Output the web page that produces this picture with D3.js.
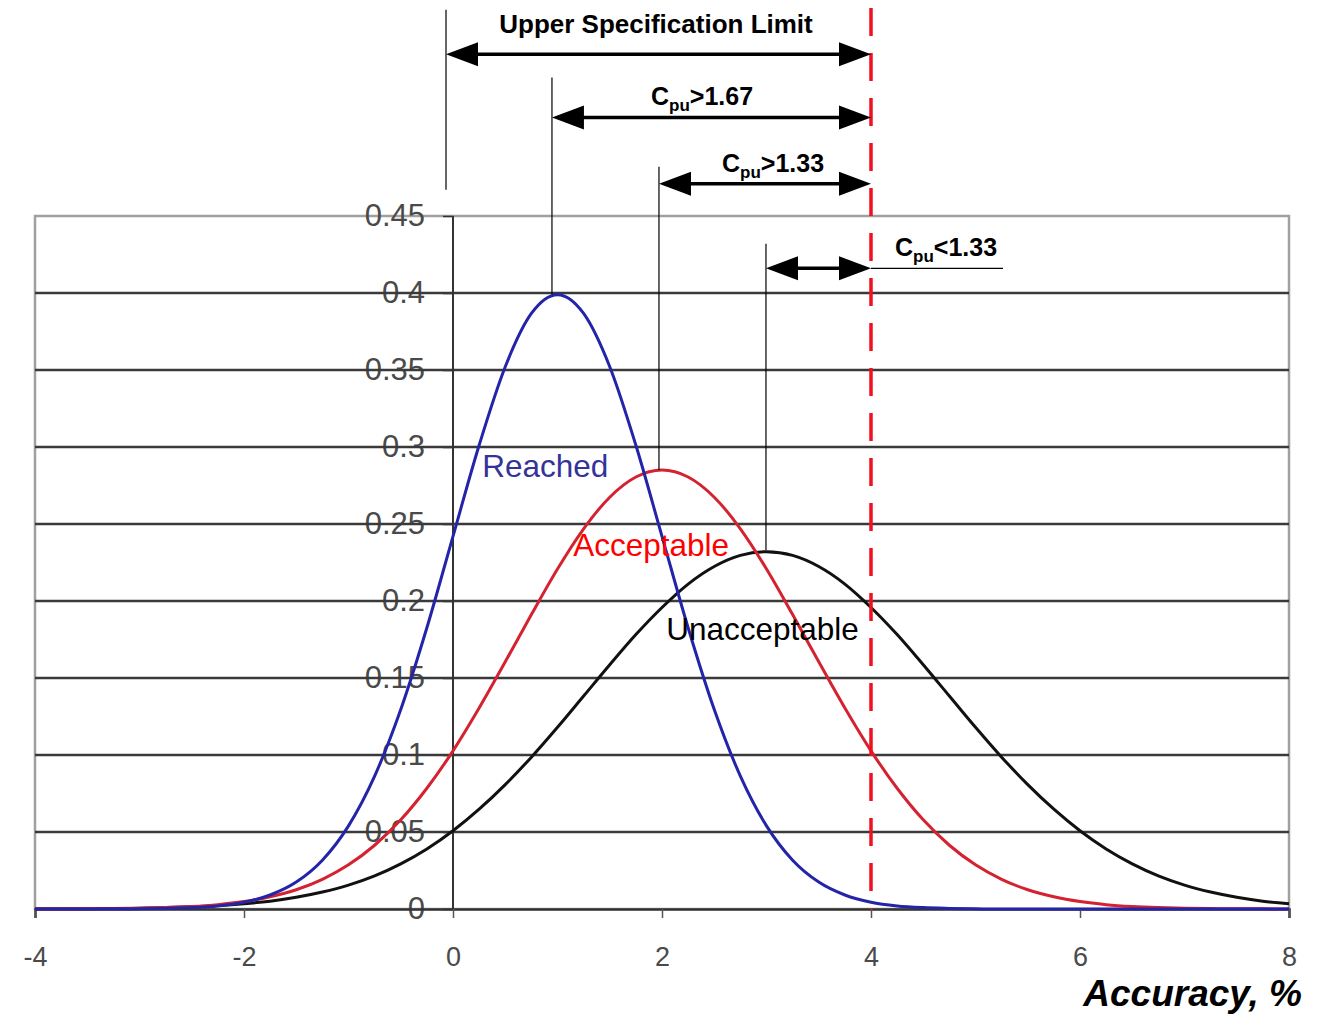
<!DOCTYPE html>
<html>
<head>
<meta charset="utf-8">
<script src="https://cdn.jsdelivr.net/npm/d3@7"></script>
<style>
  html, body { margin: 0; padding: 0; background: #fff; }
  svg { display: block; font-family: "Liberation Sans", Arial, sans-serif; }
</style>
</head>
<body>
<svg id="chart" width="1322" height="1014"></svg>
<script>
// Process capability curves (Cpu) vs upper spec limit
const xs = [-4, -3.75, -3.5, -3.25, -3, -2.75, -2.5, -2.25, -2, -1.75, -1.5, -1.25, -1, -0.75, -0.5, -0.25,
    0, 0.25, 0.5, 0.75, 1, 1.25, 1.5, 1.75, 2, 2.25, 2.5, 2.75, 3, 3.25, 3.5, 3.75,
    4, 4.25, 4.5, 4.75, 5, 5.25, 5.5, 5.75, 6, 6.25, 6.5, 6.75, 7, 7.25, 7.5, 7.75, 8];

const reached = [0, 0, 0, 0, 0.0001, 0.0004, 0.0009, 0.0020, 0.0044, 0.0091, 0.0175, 0.0317, 0.0540, 0.0863, 0.1295, 0.1826,
    0.2420, 0.3011, 0.3521, 0.3867, 0.3989, 0.3867, 0.3521, 0.3011, 0.2420, 0.1826, 0.1295, 0.0863, 0.0540, 0.0317, 0.0175, 0.0091,
    0.0044, 0.0020, 0.0009, 0.0004, 0.0001, 0, 0, 0, 0, 0, 0, 0, 0, 0, 0, 0, 0];

const acceptable = [0, 0, 0.0001, 0.0001, 0.0005, 0.0009, 0.0016, 0.0028, 0.0048, 0.0079, 0.0125, 0.0193, 0.0287, 0.0414, 0.0579, 0.0784,
    0.1027, 0.1305, 0.1605, 0.1912, 0.2208, 0.2469, 0.2674, 0.2805, 0.2850, 0.2805, 0.2674, 0.2469, 0.2208, 0.1912, 0.1605, 0.1305,
    0.1027, 0.0784, 0.0579, 0.0414, 0.0287, 0.0193, 0.0125, 0.0079, 0.0048, 0.0028, 0.0016, 0.0009, 0.0005, 0.0003, 0.0001, 0.0001, 0];

const unacceptable = [0.0001, 0.0001, 0.0002, 0.0003, 0.0005, 0.0009, 0.0014, 0.0022, 0.0034, 0.0051, 0.0076, 0.0110, 0.0155, 0.0215, 0.0293, 0.0390,
    0.0508, 0.0648, 0.0808, 0.0986, 0.1180, 0.1383, 0.1586, 0.1782, 0.1958, 0.2110, 0.2224, 0.2296, 0.2320, 0.2296, 0.2224, 0.2110,
    0.1958, 0.1782, 0.1586, 0.1383, 0.1180, 0.0986, 0.0808, 0.0648, 0.0508, 0.0390, 0.0293, 0.0215, 0.0155, 0.0110, 0.0076, 0.0051, 0.0034];

const xTicks = [-4, -2, 0, 2, 4, 6, 8];
const xTickLabels = ['-4', '-2', '0', '2', '4', '6', '8'];
const yTicks = [0, 0.05, 0.1, 0.15, 0.2, 0.25, 0.3, 0.35, 0.4, 0.45];
const yTickLabels = ['0', '0.05', '0.1', '0.15', '0.2', '0.25', '0.3', '0.35', '0.4', '0.45'];

const usl = 4;
// arrows: start x (mean), arrow height (value units), guide line top/bottom
const arrowNames = ['Upper Specification Limit', 'C|pu|>1.67', 'C|pu|>1.33', 'C|pu|<1.33'];
const arrowFrom = [-0.067, 0.947, 1.971, 2.995];
const arrowLevel = [0.555, 0.514, 0.471, 0.416];
const guideTop = [0.584, 0.540, 0.482, 0.432];
const guideBottom = [0.467, 0.399, 0.285, 0.233];

const svg = d3.select('#chart');
const x = d3.scaleLinear().domain([-4, 8]).range([35, 1289]);
const y = d3.scaleLinear().domain([0, 0.45]).range([909, 216]);

// plot frame
svg.append('rect')
    .attr('x', x(-4)).attr('y', y(0.45))
    .attr('width', x(8) - x(-4)).attr('height', y(0) - y(0.45))
    .attr('fill', '#fff').attr('stroke', '#a0a0a0').attr('stroke-width', 2.5);

// y axis (labels sit under the grid lines)
const yAxis = d3.axisLeft(y)
    .tickValues(yTicks)
    .tickSize(10)
    .tickPadding(18)
    .tickFormat((d, i) => yTickLabels[i]);

const gy = svg.append('g')
    .attr('transform', `translate(${x(0)},0)`)
    .call(yAxis);
gy.select('.domain').remove();
gy.selectAll('.tick line').attr('stroke', '#333').attr('stroke-width', 1.5);
gy.selectAll('.tick text')
    .attr('font-size', 31)
    .attr('fill', '#4a4a4a')
    .attr('font-family', '"Liberation Sans", Arial, sans-serif');

// horizontal grid
svg.append('g').selectAll('line')
    .data(yTicks.filter(d => d > 0 && d < 0.45))
    .join('line')
    .attr('x1', x(-4)).attr('x2', x(8))
    .attr('y1', d => y(d)).attr('y2', d => y(d))
    .attr('stroke', '#3a3a3a').attr('stroke-width', 2.5);

// y axis line at x = 0
svg.append('line')
    .attr('x1', x(0)).attr('x2', x(0))
    .attr('y1', y(0.45)).attr('y2', y(0))
    .attr('stroke', '#333').attr('stroke-width', 2);

// x axis
const xAxis = d3.axisBottom(x)
    .tickValues(xTicks)
    .tickSize(9)
    .tickPadding(29)
    .tickFormat((d, i) => xTickLabels[i]);

const gx = svg.append('g')
    .attr('transform', `translate(0,${y(0)})`)
    .call(xAxis);
gx.select('.domain').attr('stroke', '#333').attr('stroke-width', 2.5);
gx.selectAll('.tick line').attr('stroke', '#555').attr('stroke-width', 1.5);
gx.selectAll('.tick text')
    .attr('font-size', 27)
    .attr('fill', '#4a4a4a')
    .attr('font-family', '"Liberation Sans", Arial, sans-serif');

// curves
const line = d3.line()
    .x((d, i) => x(xs[i]))
    .y(d => y(d))
    .curve(d3.curveMonotoneX);

const series = [
    { values: unacceptable, color: '#111' },
    { values: acceptable, color: '#d42230' },
    { values: reached, color: '#2424a8' }
];

svg.append('g').selectAll('path')
    .data(series)
    .join('path')
    .attr('d', d => line(d.values))
    .attr('fill', 'none')
    .attr('stroke', d => d.color)
    .attr('stroke-width', 3)
    .attr('stroke-linejoin', 'round');

// curve labels
const curveLabels = [
    { text: 'Reached', color: '#333399', px: 0.28, py: 0.2805 },
    { text: 'Acceptable', color: '#ff0000', px: 1.15, py: 0.229 },
    { text: 'Unacceptable', color: '#000', px: 2.04, py: 0.1747 }
];
svg.append('g').selectAll('text')
    .data(curveLabels)
    .join('text')
    .attr('x', d => x(d.px))
    .attr('y', d => y(d.py))
    .attr('font-size', 31.5)
    .attr('fill', d => d.color)
    .text(d => d.text);

// upper spec limit (dashed)
svg.append('line')
    .attr('x1', x(usl)).attr('x2', x(usl))
    .attr('y1', 8).attr('y2', y(0))
    .attr('stroke', '#f01020')
    .attr('stroke-width', 3.5)
    .attr('stroke-dasharray', '28 17');

// annotation arrows
const ann = svg.append('g');

function arrowHead(px, py, dir) {
    const len = 32, half = 12;
    ann.append('path')
        .attr('d', `M${px},${py}L${px - dir * len},${py - half}L${px - dir * len},${py + half}Z`)
        .attr('fill', '#000');
}

arrowNames.forEach((name, i) => {
    const x0 = x(arrowFrom[i]);
    const x1 = x(usl);
    const ay = y(arrowLevel[i]);

    // guide line
    ann.append('line')
        .attr('x1', x0).attr('x2', x0)
        .attr('y1', y(guideTop[i])).attr('y2', y(guideBottom[i]))
        .attr('stroke', '#000').attr('stroke-width', 1.2);

    ann.append('line')
        .attr('x1', x0 + 10).attr('x2', x1 - 10)
        .attr('y1', ay).attr('y2', ay)
        .attr('stroke', '#000').attr('stroke-width', 3.5);
    arrowHead(x0, ay, -1);
    arrowHead(x1, ay, 1);
});

// labels above the arrows
ann.append('text')
    .attr('x', 656).attr('y', y(arrowLevel[0]) - 21)
    .attr('text-anchor', 'middle')
    .attr('font-size', 26).attr('font-weight', 'bold')
    .text(arrowNames[0]);

function cpuLabel(name, px, py) {
    const parts = name.split('|');
    const t = ann.append('text')
        .attr('x', px).attr('y', py)
        .attr('font-size', 25).attr('font-weight', 'bold');
    t.append('tspan').text(parts[0]);
    t.append('tspan').attr('font-size', 17).attr('dy', 6).text(parts[1]);
    t.append('tspan').attr('dy', -6).text(parts[2]);
}

cpuLabel(arrowNames[1], 651, y(arrowLevel[1]) - 12);
cpuLabel(arrowNames[2], 722, y(arrowLevel[2]) - 12);
cpuLabel(arrowNames[3], 895, y(arrowLevel[3]) - 12);

// underline next to the last label
ann.append('line')
    .attr('x1', x(usl)).attr('x2', 1003)
    .attr('y1', y(arrowLevel[3])).attr('y2', y(arrowLevel[3]))
    .attr('stroke', '#000').attr('stroke-width', 1.2);

// x axis title
svg.append('text')
    .attr('x', 1302).attr('y', 1006)
    .attr('text-anchor', 'end')
    .attr('font-size', 37)
    .attr('font-weight', 'bold')
    .attr('font-style', 'italic')
    .text('Accuracy, %');
</script>
</body>
</html>
